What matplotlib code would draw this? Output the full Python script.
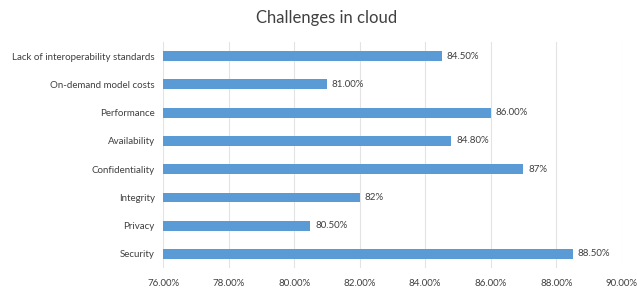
import matplotlib
matplotlib.use("Agg")
import matplotlib.pyplot as plt

categories = ["Lack of interoperability standards", "On-demand model costs", "Performance",
              "Availability", "Confidentiality", "Integrity", "Privacy", "Security"]
values = [84.5, 81.0, 86.0, 84.8, 87.0, 82.0, 80.5, 88.5]
value_labels = ["84.50%", "81.00%", "86.00%", "84.80%", "87%", "82%", "80.50%", "88.50%"]
xticks = [76, 78, 80, 82, 84, 86, 88, 90]
xtick_labels = ["76.00%", "78.00%", "80.00%", "82.00%", "84.00%", "86.00%", "88.00%", "90.00%"]

plt.rcParams['font.family'] = ['Lato', 'DejaVu Sans']
fig = plt.figure(figsize=(6.37, 2.88), dpi=100)
ax = fig.add_axes([0.256, 0.069, 0.72, 0.785])

base = 76
ypos = list(range(len(categories)))
ax.barh(ypos, [v - base for v in values], left=base, height=0.35, color="#5B9BD5", zorder=3)
for y, v, lab in zip(ypos, values, value_labels):
    ax.text(v + 0.15, y, lab, va="center", ha="left", fontsize=7, color="#404040")

ax.set_xlim(76, 90)
ax.set_ylim(len(categories) - 0.5, -0.5)
ax.set_yticks(ypos)
ax.set_yticklabels(categories, fontsize=7, color="#404040")
ax.set_xticks(xticks)
ax.set_xticklabels(xtick_labels, fontsize=7, color="#404040")
ax.tick_params(axis="both", length=0, pad=6)
ax.tick_params(axis="x", pad=8)
ax.grid(axis="x", color="#e3e3e3", linewidth=0.8, zorder=0)
for s in ax.spines.values():
    s.set_visible(False)

fig.text(0.512, 0.937, "Challenges in cloud", ha="center", va="center", fontsize=12, color="#404040")
fig.savefig("out.png", dpi=100)
